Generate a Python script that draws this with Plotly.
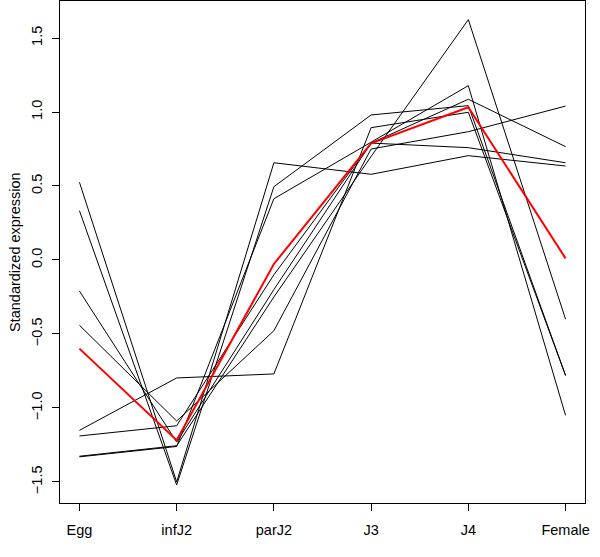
import plotly.graph_objects as go

# ---- data ----
stages = ["Egg", "infJ2", "parJ2", "J3", "J4", "Female"]

gene_1 = [0.525, -1.50, 0.657, 0.579, 0.705, 0.635]
gene_2 = [0.333, -1.52, 0.495, 0.980, 1.043, -0.780]
gene_3 = [-1.330, -1.26, 0.414, 0.796, 1.178, -1.050]
gene_4 = [-1.326, -1.255, -0.250, 0.700, 1.624, -0.400]
gene_5 = [-1.151, -0.797, -0.770, 0.894, 0.998, -0.780]
gene_6 = [-1.189, -1.120, -0.100, 0.790, 1.086, 0.766]
gene_7 = [-0.441, -1.088, -0.478, 0.750, 0.867, 1.040]
gene_8 = [-0.210, -1.230, -0.200, 0.790, 0.759, 0.657]
genes = [gene_1, gene_2, gene_3, gene_4, gene_5, gene_6, gene_7, gene_8]

mean_profile = [-0.599, -1.218, -0.027, 0.788, 1.032, 0.011]

y_ticks = [-1.5, -1.0, -0.5, 0.0, 0.5, 1.0, 1.5]
y_tick_text = ["\u22121.5", "\u22121.0", "\u22120.5", "0.0", "0.5", "1.0", "1.5"]
y_title = "Standardized expression"

FONT = "Liberation Sans, Arial, Helvetica, sans-serif"
FS = 14.5

fig = go.Figure()
for g in genes:
    fig.add_trace(go.Scatter(x=stages, y=g, mode="lines",
                             line=dict(color="black", width=1),
                             showlegend=False, hoverinfo="skip"))
fig.add_trace(go.Scatter(x=stages, y=mean_profile, mode="lines",
                         line=dict(color="#ff0000", width=2),
                         showlegend=False, hoverinfo="skip"))

fig.update_layout(
    width=600, height=557,
    margin=dict(l=60, r=15, t=1, b=54, autoexpand=False),
    paper_bgcolor="white", plot_bgcolor="white",
    font=dict(family=FONT, size=FS, color="black"),
    hovermode=False,
    xaxis=dict(
        type="category", categoryorder="array", categoryarray=stages,
        range=[-0.2, 5.2], showgrid=False, zeroline=False, automargin=False,
        showline=True, mirror=True, linecolor="black", linewidth=1,
        ticks="outside", ticklen=7, tickwidth=1, tickcolor="black",
        tickfont=dict(family=FONT, size=FS, color="black"),
        ticklabelstandoff=7,
    ),
    yaxis=dict(
        range=[-1.642, 1.75], showgrid=False, zeroline=False, automargin=False,
        showline=True, mirror=True, linecolor="black", linewidth=1,
        ticks="outside", ticklen=7, tickwidth=1, tickcolor="black",
        tickvals=y_ticks, ticktext=y_tick_text, tickangle=-90,
        tickfont=dict(family=FONT, size=FS, color="black"),
        ticklabelstandoff=4,
    ),
    annotations=[dict(
        text=y_title, textangle=-90, showarrow=False,
        xref="paper", yref="paper", x=-45 / 525, y=0.5,
        xanchor="center", yanchor="middle",
        font=dict(family=FONT, size=FS, color="black"),
    )],
)

fig.write_html(
    "out.html",
    config={"displayModeBar": False, "staticPlot": True},
    post_script="document.body.style.margin='0';document.body.style.overflow='hidden';",
)
